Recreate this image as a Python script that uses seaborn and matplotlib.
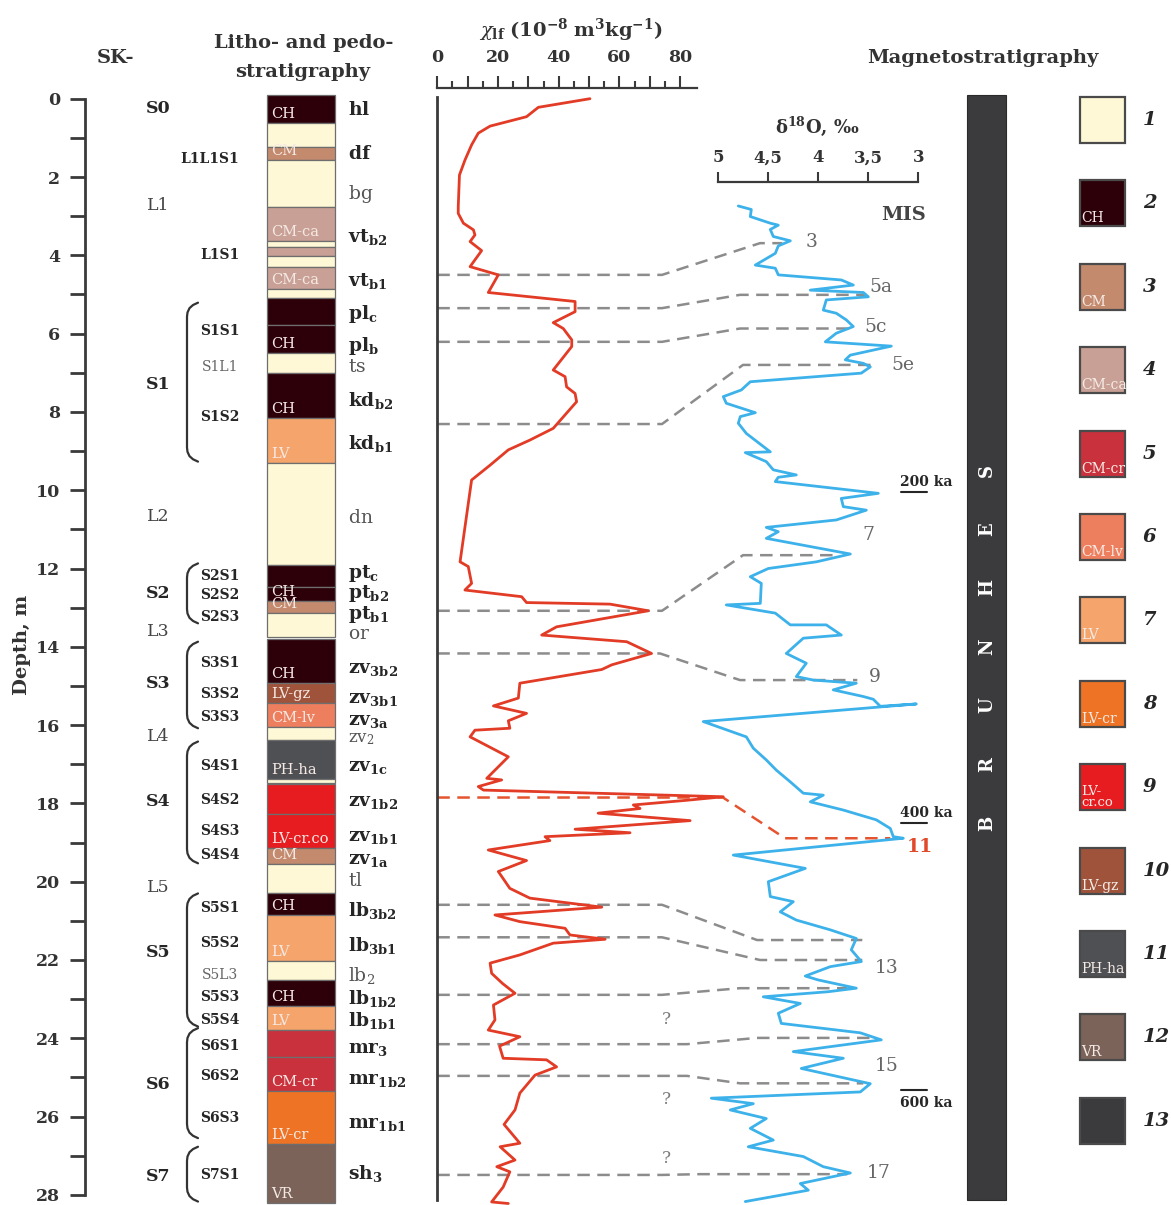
import numpy as np
import matplotlib
matplotlib.use("Agg")
import matplotlib.pyplot as plt
import seaborn as sns
from matplotlib.patches import Rectangle
from matplotlib.ticker import FuncFormatter, FixedLocator

# ---------------- DATA ----------------
depth_ticks = list(range(0, 29, 2))
depth_minor = list(range(1, 28, 2))

# litho / pedo column (depth in m)
unit_top = [-0.10, 0.61, 1.24, 1.57, 2.77, 3.63, 3.80, 4.02, 4.29, 4.87, 5.10, 5.78, 6.49, 7.01,
            8.16, 9.30, 11.91, 12.46, 12.82, 13.13, 13.81, 14.93, 15.43, 16.06, 16.38, 17.38,
            17.50, 18.27, 19.15, 19.55, 20.28, 20.85, 22.02, 22.51, 23.18, 23.79, 24.49, 25.34, 26.70]
unit_base = [0.61, 1.24, 1.57, 2.77, 3.63, 3.80, 4.02, 4.29, 4.87, 5.10, 5.78, 6.49, 7.01, 8.16,
             9.30, 11.91, 12.46, 12.82, 13.13, 13.76, 14.93, 15.43, 16.06, 16.38, 17.38, 17.47,
             18.27, 19.15, 19.55, 20.28, 20.85, 22.02, 22.51, 23.18, 23.79, 24.49, 25.34, 26.70, 28.20]
unit_type = [2, 1, 3, 1, 4, 1, 4, 1, 4, 1, 2, 2, 1, 2,
             7, 1, 2, 2, 3, 1, 2, 10, 6, 1, 11, 1,
             9, 9, 3, 1, 2, 7, 1, 2, 7, 5, 5, 8, 12]
unit_code = ['CH', '', 'CM', '', 'CM-ca', '', '', '', 'CM-ca', '', '', 'CH', '', 'CH',
             'LV', '', '', 'CH', 'CM', '', 'CH', 'LV-gz', 'CM-lv', '', 'PH-ha', '',
             '', 'LV-cr.co', 'CM', '', 'CH', 'LV', '', 'CH', 'LV', '', 'CM-cr', 'LV-cr', 'VR']

type_colors = {1: '#fef8d6', 2: '#2d0009', 3: '#c48a6e', 4: '#c9a096', 5: '#c9313d',
               6: '#ee7f5e', 7: '#f5a56c', 8: '#ef7324', 9: '#e71c20', 10: '#a0533b',
               11: '#4f5054', 12: '#7b635a', 13: '#3b3b3d'}
legend_codes = ['', 'CH', 'CM', 'CM-ca', 'CM-cr', 'CM-lv', 'LV', 'LV-cr', 'LV-\ncr.co',
                'LV-gz', 'PH-ha', 'VR', '']
legend_numbers = [str(i) for i in range(1, 14)]

# SK- stratigraphic units
sk_labels = ['S0', 'L1', 'S1', 'L2', 'S2', 'L3', 'S3', 'L4', 'S4', 'L5', 'S5', 'S6', 'S7']
sk_depth = [0.24, 2.72, 7.31, 10.68, 12.63, 13.62, 14.93, 16.30, 17.96, 20.14, 21.82, 25.19, 27.52]

sub_labels = ['L1L1S1', 'L1S1', 'S1S1', 'S1L1', 'S1S2', 'S2S1', 'S2S2', 'S2S3', 'S3S1', 'S3S2',
              'S3S3', 'S4S1', 'S4S2', 'S4S3', 'S4S4', 'S5S1', 'S5S2', 'S5L3', 'S5S3', 'S5S4',
              'S6S1', 'S6S2', 'S6S3', 'S7S1']
sub_depth = [1.54, 3.99, 5.93, 6.85, 8.13, 12.19, 12.68, 13.24, 14.41, 15.21,
             15.79, 17.04, 17.91, 18.70, 19.32, 20.67, 21.56, 22.38, 22.94, 23.53,
             24.20, 24.96, 26.04, 27.49]

brace_top = [5.21, 11.87, 13.87, 16.42, 20.30, 23.74, 26.77]
brace_base = [9.27, 13.40, 16.08, 19.53, 23.70, 26.55, 28.17]

# pedostratigraphic indices
ped_base = ['hl', 'df', 'bg', 'vt', 'vt', 'pl', 'pl', 'ts', 'kd', 'kd', 'dn', 'pt', 'pt', 'pt',
            'or', 'zv', 'zv', 'zv', 'zv', 'zv', 'zv', 'zv', 'zv', 'tl', 'lb', 'lb', 'lb', 'lb',
            'lb', 'mr', 'mr', 'mr', 'sh']
ped_sub = ['', '', '', 'b2', 'b1', 'c', 'b', '', 'b2', 'b1', '', 'c', 'b2', 'b1',
           '', '3b2', '3b1', '3a', '2', '1c', '1b2', '1b1', '1a', '', '3b2', '3b1', '2', '1b2',
           '1b1', '3', '1b2', '1b1', '3']
ped_bold = [1, 1, 0, 1, 1, 1, 1, 0, 1, 1, 0, 1, 1, 1,
            0, 1, 1, 1, 0, 1, 1, 1, 1, 0, 1, 1, 0, 1,
            1, 1, 1, 1, 1]
ped_depth = [0.26, 1.39, 2.41, 3.51, 4.63, 5.47, 6.29, 6.83, 7.70, 8.80, 10.69, 12.09, 12.60, 13.14,
             13.65, 14.52, 15.28, 15.86, 16.30, 17.02, 17.91, 18.81, 19.40, 19.96, 20.72, 21.62, 22.38, 22.97,
             23.53, 24.22, 25.01, 26.14, 27.44]

# magnetic susceptibility chi_lf
chi_depth = [0.00, 0.22, 0.46, 0.70, 0.88, 1.18, 1.57, 1.95, 2.76, 2.93, 3.18, 3.35, 3.48, 3.65,
             3.88, 4.29, 4.50, 4.95, 5.18, 5.44, 5.72, 5.87, 6.16, 6.33, 6.93, 7.10, 7.36, 7.53,
             7.74, 8.42, 8.72, 8.97, 9.36, 9.74, 11.83, 11.95, 12.38, 12.55, 12.72, 12.87, 12.91,
             13.08, 13.49, 13.70, 13.87, 14.17, 14.46, 14.58, 14.93, 15.31, 15.51, 15.70, 15.89,
             16.08, 16.13, 16.30, 16.81, 17.36, 17.40, 17.57, 17.66, 17.83, 17.92, 18.04, 18.13,
             18.25, 18.44, 18.66, 18.75, 18.85, 18.95, 19.19, 19.46, 19.74, 20.17, 20.42, 20.65,
             20.85, 21.02, 21.19, 21.36, 21.47, 21.57, 21.87, 22.08, 22.34, 22.60, 22.85, 23.15,
             23.53, 23.79, 23.96, 24.20, 24.51, 24.55, 24.73, 24.94, 25.40, 25.83, 26.20, 26.68,
             26.77, 27.11, 27.28, 27.41, 27.80, 28.18, 28.22]
chi_value = [50.3, 33.3, 29.4, 17.4, 13.5, 11.3, 9.1, 7.3, 6.9, 6.9, 8.6, 11.9, 12.4, 10.8,
             14.6, 10.8, 20.1, 16.8, 45.4, 45.4, 38.2, 41.5, 44.3, 44.3, 38.2, 42.1, 42.6, 45.4,
             45.9, 38.2, 30.5, 23.4, 17.4, 11.3, 7.5, 10.2, 11.3, 9.1, 27.8, 29.4, 56.9,
             69.5, 39.3, 34.4, 62.4, 70.6, 57.5, 54.2, 27.2, 26.7, 18.5, 29.4, 23.4,
             23.9, 12.4, 10.8, 23.4, 16.3, 21.2, 13.5, 15.2, 94.2, 82.2, 64.6, 66.8,
             53.0, 83.3, 45.4, 63.5, 35.5, 37.1, 16.8, 29.4, 20.1, 23.9, 30.5, 54.2,
             19.0, 27.2, 42.1, 43.7, 55.3, 38.2, 27.2, 17.4, 17.9, 21.5, 25.6, 18.5,
             19.0, 16.8, 27.2, 20.5, 21.7, 36.0, 39.3, 32.2, 27.2, 25.6, 22.0, 27.2,
             20.7, 25.6, 19.6, 23.9, 21.7, 17.9, 23.4]

# oxygen isotope record
o18_depth = [2.74, 2.83, 3.01, 3.18, 3.23, 3.34, 3.52, 3.63, 3.76, 3.95, 4.25, 4.33, 4.50, 4.63,
             4.76, 4.89, 4.95, 5.06, 5.14, 5.40, 5.48, 5.65, 5.82, 5.99, 6.21, 6.32, 6.55, 6.67,
             6.76, 6.85, 7.01, 7.23, 7.44, 7.61, 7.78, 8.02, 8.12, 8.29, 8.55, 9.02, 9.04, 9.27,
             9.48, 9.61, 9.67, 9.78, 10.08, 10.21, 10.42, 10.51, 10.76, 10.95, 11.06, 11.23, 11.63,
             11.83, 12.00, 12.21, 12.38, 12.89, 12.93, 13.14, 13.44, 13.44, 13.70, 13.78, 14.17,
             14.42, 14.76, 14.85, 14.93, 15.10, 15.27, 15.34, 15.52, 15.46, 15.91, 16.30, 16.59,
             16.89, 17.15, 17.45, 17.74, 17.79, 17.96, 18.17, 18.42, 18.64, 18.85, 18.89, 19.32,
             19.66, 20.00, 20.38, 20.51, 20.77, 20.98, 21.23, 21.45, 21.74, 22.04, 22.17, 22.41,
             22.51, 22.72, 22.81, 22.94, 23.11, 23.36, 23.62, 23.86, 24.04, 24.34, 24.51, 24.77,
             25.16, 25.37, 25.53, 25.67, 25.83, 26.05, 26.30, 26.60, 26.77, 27.02, 27.28, 27.44,
             27.71, 27.88, 28.17]
o18_value = [4.80, 4.67, 4.68, 4.48, 4.40, 4.48, 4.45, 4.28, 4.40, 4.43, 4.63, 4.43, 4.40, 3.77,
             3.65, 4.08, 3.55, 3.50, 3.92, 3.95, 3.82, 3.72, 3.65, 3.82, 3.93, 3.27, 3.68, 3.73,
             3.55, 3.48, 3.57, 4.68, 4.77, 4.95, 4.92, 4.63, 4.78, 4.80, 4.72, 4.48, 4.73, 4.52,
             4.45, 4.22, 4.40, 4.43, 3.40, 3.77, 3.75, 3.52, 3.82, 4.52, 4.40, 4.52, 3.68,
             4.02, 4.50, 4.68, 4.57, 4.58, 4.92, 4.43, 4.28, 3.92, 3.77, 4.15, 4.32,
             4.12, 4.22, 4.05, 3.62, 3.85, 3.55, 3.45, 3.38, 3.02, 5.15, 4.72, 4.65,
             4.52, 4.42, 4.28, 4.15, 3.95, 4.08, 3.75, 3.42, 3.28, 3.25, 3.15, 4.85,
             4.13, 4.50, 4.48, 4.25, 4.38, 4.22, 3.88, 3.62, 3.67, 3.57, 3.88, 4.13,
             4.00, 3.62, 3.90, 4.55, 4.18, 4.40, 4.37, 3.58, 3.37, 4.25, 3.75, 4.17,
             3.48, 3.58, 5.07, 4.65, 4.88, 4.52, 4.68, 4.45, 4.70, 4.15, 3.95, 3.68,
             4.18, 4.10, 4.73]

# correlation lines: depth on chi side, depth on d18O side, d18O value at end
corr_chi_depth = [4.50, 5.35, 6.21, 8.31, 13.08, 14.17, 17.85, 20.59, 21.42, 22.89, 24.15, 24.96, 27.49]
corr_o18_depth = [3.69, 5.01, 5.87, 6.80, 11.66, 14.85, 18.89, 21.49, 22.00, 22.72, 23.99, 25.15, 27.47]
corr_o18_end = [4.36, 3.53, 3.65, 3.47, 3.81, 3.61, 3.28, 3.56, 3.56, 3.71, 3.45, 3.55, 3.71]

mis_labels = ['3', '5a', '5c', '5e', '7', '9', '11', '13', '15', '17']
mis_o18 = [4.07, 3.37, 3.43, 3.15, 3.50, 3.43, 2.98, 3.32, 3.32, 3.40]
mis_depth = [3.65, 4.82, 5.82, 6.80, 11.14, 14.76, 19.11, 22.21, 24.71, 27.45]

age_labels = ['200', '400', '600']
age_depth = [9.78, 18.25, 25.66]
question_depth = [23.53, 25.56, 27.07]

brunhes_top, brunhes_base = -0.10, 28.13
brunhes_letters = list('BRUNHES')

# ---------------- LAYOUT ----------------
sns.set_theme(style="white")
plt.rcParams["font.family"] = ["DejaVu Serif"]
plt.rcParams["mathtext.fontset"] = "dejavuserif"

W, H = 1171, 1205
Y0, PXM = 98.7, 39.15


def dep(ypx):
    return (ypx - Y0) / PXM


YLIM = (dep(H), dep(0))
CHI_X0, CHI_PX = 437.3, 3.035
O18_X5, O18_PX = 718.3, 100.0


def o18_px(v):
    return O18_X5 + (5 - v) * O18_PX


DARK = '#262626'
AXC = '#3a3a3a'
RED = '#e23b26'
BLUE = '#3db2ea'
DASH = '#8c8c8c'

corr_bend_left = [662, 662, 662, 662, 662, 660, 723, 662, 662, 662, 687, 687, 662]
corr_bend_right = [760, 740, 740, 743, 743, 740, 785, 757, 760, 740, 757, 740, 700]
corr_colors = [DASH] * 6 + ['#e5532f'] + [DASH] * 6

fig = plt.figure(figsize=(W / 100, H / 100), dpi=100)
fig.patch.set_facecolor('white')

# base axes: x in pixels, y in depth
ax = fig.add_axes([0, 0, 1, 1])
ax.set_xlim(0, W)
ax.set_ylim(*YLIM)
ax.patch.set_visible(False)
ax.grid(False)
for s in ('top', 'right', 'bottom'):
    ax.spines[s].set_visible(False)
ax.spines['left'].set_position(('data', 85))
ax.spines['left'].set_bounds(0, 28)
ax.spines['left'].set_linewidth(2)
ax.spines['left'].set_color(AXC)
ax.set_xticks([])
ax.set_yticks(depth_ticks)
ax.yaxis.set_minor_locator(FixedLocator(depth_minor))
ax.tick_params(axis='y', which='both', left=True, direction='out', length=11, width=2, color=AXC)
ax.tick_params(axis='y', which='major', labelsize=12.5, pad=7, labelcolor='#333333')
for t in ax.get_yticklabels():
    t.set_fontweight('bold')

ax.text(22, dep(645), 'Depth, m', rotation=90, ha='center', va='center', fontsize=14,
        fontweight='bold', color='#333333')

# headers
ax.text(115, dep(58), 'SK-', ha='center', va='center', fontsize=14, fontweight='bold', color='#333333')
ax.text(304, dep(43), 'Litho- and pedo-', ha='center', va='center', fontsize=14, fontweight='bold', color='#333333')
ax.text(303, dep(72), 'stratigraphy', ha='center', va='center', fontsize=14, fontweight='bold', color='#333333')
ax.text(983, dep(58), 'Magnetostratigraphy', ha='center', va='center', fontsize=14, fontweight='bold', color='#333333')
ax.text(571, dep(30), r'$\chi_{\mathbf{lf}}$ $\mathbf{(10^{-8}\ m^{3}kg^{-1})}$', ha='center', va='center',
        fontsize=14, color='#333333')
ax.text(817, dep(126), r'$\mathbf{\delta^{18}O}$, ‰', ha='center', va='center', fontsize=13,
        fontweight='bold', color='#333333')
ax.text(903, dep(215), 'MIS', ha='center', va='center', fontsize=14, fontweight='bold', color='#444444')

# litho column
tops = np.array(unit_top)
bases = np.array(unit_base)
ax.bar(x=[301] * len(tops), height=bases - tops, bottom=tops, width=68,
       color=[type_colors[t] for t in unit_type], edgecolor='#6e6e6e', linewidth=0.9, zorder=2)
for base, code in zip(unit_base, unit_code):
    if code:
        ax.text(271, base - 0.05, code, color='#f5e9e4', fontsize=10.5, ha='left', va='bottom', zorder=3)

# SK labels
for lab, d in zip(sk_labels, sk_depth):
    bold = lab.startswith('S')
    ax.text(158, d, lab, ha='center', va='center', fontsize=12.5,
            fontweight='bold' if bold else 'normal', color=DARK if bold else '#444444')
for lab, d in zip(sub_labels, sub_depth):
    normal = 'L' in lab[2:] and not lab.startswith('L')
    xx = 210 if lab == 'L1L1S1' else 220
    ax.text(xx, d, lab, ha='center', va='center', fontsize=10,
            fontweight='normal' if normal else 'bold', color='#666666' if normal else DARK)

# braces
for t, b in zip(brace_top, brace_base):
    bx = [198, 193, 189.5, 187.5, 187, 187, 187.5, 189.5, 193, 198]
    by = [t, t + 0.06, t + 0.14, t + 0.25, t + 0.36, b - 0.36, b - 0.25, b - 0.14, b - 0.06, b]
    ax.plot(bx, by, color='#333333', lw=1.6, solid_capstyle='round')

# pedostratigraphic indices
for base, sub, bold, d in zip(ped_base, ped_sub, ped_bold, ped_depth):
    if bold:
        s = r'$\mathbf{%s}$' % base if not sub else r'$\mathbf{%s}_{\mathbf{%s}}$' % (base, sub)
        col = DARK
    else:
        s = r'$\mathrm{%s}$' % base if not sub else r'$\mathrm{%s}_{\mathrm{%s}}$' % (base, sub)
        col = '#555555'
    fs = 12 if (base == 'zv' and sub == '2') else 13.5
    ax.text(348, d + 0.15, s, ha='left', va='baseline', fontsize=fs, color=col)

# correlation lines
for d1, d2, de, bl, br, col in zip(corr_chi_depth, corr_o18_depth, corr_o18_end,
                                   corr_bend_left, corr_bend_right, corr_colors):
    ax.plot([CHI_X0, bl, br, o18_px(de)], [d1, d1, d2, d2], ls=(0, (5, 3)), color=col, lw=1.8, zorder=1)
for d in question_depth:
    ax.text(666, d, '?', ha='center', va='center', fontsize=12, color='#7a7a7a')

# age markers
for lab, d, side in zip(age_labels, age_depth, ['under', 'under', 'over']):
    ax.text(900, d, f'{lab} ka', ha='left', va='center', fontsize=10, fontweight='bold', color=DARK)
    yy = d + 0.26 if side == 'under' else d - 0.34
    ax.plot([901, 927], [yy, yy], color=DARK, lw=1.5)

# Brunhes bar
ax.bar(x=[986.5], height=[brunhes_base - brunhes_top], bottom=[brunhes_top], width=39,
       color=type_colors[13], edgecolor='#2a2a2a', linewidth=0.8, zorder=2)
for i, ch in enumerate(brunhes_letters):
    ax.text(987, dep(823 - i * 58.8), ch, rotation=90, ha='center', va='center', fontsize=13,
            fontweight='bold', color='white', zorder=3)

# legend
for i in range(13):
    cy = 120 + i * 83.4
    rect = Rectangle((1080, dep(cy - 23)), 45, 46 / PXM, facecolor=type_colors[i + 1],
                     edgecolor='#4a4a4a', lw=1.6, zorder=3)
    ax.add_patch(rect)
    code = legend_codes[i]
    if code:
        t = ax.text(1081, dep(cy + 22), code, color='#f5ebe6', fontsize=10 if '\n' not in code else 9.5,
                    ha='left', va='bottom', linespacing=0.85, zorder=4)
        t.set_clip_path(rect)
    ax.text(1143, dep(cy), legend_numbers[i], fontsize=14, fontweight='bold', style='italic',
            color=DARK, ha='left', va='center')

# chi_lf axes
axc = fig.add_axes([CHI_X0 / W, 0, 100 * CHI_PX / W, 1])
sns.lineplot(x=chi_value, y=chi_depth, ax=axc, sort=False, estimator=None, color=RED, linewidth=2.0)
axc.set_xlim(0, 100)
axc.set_ylim(*YLIM)
axc.set_xlabel('')
axc.set_ylabel('')
axc.patch.set_visible(False)
axc.grid(False)
axc.spines['right'].set_visible(False)
axc.spines['bottom'].set_visible(False)
axc.spines['left'].set_bounds(dep(97), dep(1200))
axc.spines['left'].set_linewidth(2)
axc.spines['left'].set_color(AXC)
axc.spines['top'].set_position(('data', dep(88)))
axc.spines['top'].set_bounds(0, 85.5)
axc.spines['top'].set_linewidth(1.6)
axc.spines['top'].set_color(AXC)
axc.xaxis.tick_top()
axc.set_xticks(np.arange(0, 81, 10))
axc.xaxis.set_minor_locator(FixedLocator(np.arange(5, 81, 10)))
axc.xaxis.set_major_formatter(FuncFormatter(lambda v, p: f'{int(round(v))}' if int(round(v)) % 20 == 0 else ''))
axc.tick_params(axis='x', which='major', top=True, bottom=False, labeltop=True, labelbottom=False,
                direction='out', length=9, width=1.5, color=AXC, labelsize=12.5, pad=7, labelcolor='#333333')
axc.tick_params(axis='x', which='minor', top=True, bottom=False, direction='out', length=5, width=1.5, color=AXC)
axc.set_yticks([])
for t in axc.get_xticklabels():
    t.set_fontweight('bold')

# d18O axes
axo = fig.add_axes([(O18_X5 - 0.3 * O18_PX) / W, 0, 2.35 * O18_PX / W, 1])
sns.lineplot(x=o18_value, y=o18_depth, ax=axo, sort=False, estimator=None, color=BLUE, linewidth=2.0)
axo.set_xlim(5.3, 2.95)
axo.set_ylim(*YLIM)
axo.set_xlabel('')
axo.set_ylabel('')
axo.patch.set_visible(False)
axo.grid(False)
for s in ('left', 'right', 'bottom'):
    axo.spines[s].set_visible(False)
axo.spines['top'].set_position(('data', dep(181.7)))
axo.spines['top'].set_bounds(3, 5)
axo.spines['top'].set_linewidth(1.6)
axo.spines['top'].set_color(AXC)
axo.xaxis.tick_top()
axo.set_xticks([5, 4.5, 4, 3.5, 3])
axo.xaxis.set_major_formatter(FuncFormatter(lambda v, p: (f'{v:g}').replace('.', ',')))
axo.tick_params(axis='x', which='major', top=True, bottom=False, labeltop=True, labelbottom=False,
                direction='out', length=7, width=1.5, color=AXC, labelsize=12, pad=4, labelcolor='#333333')
axo.set_yticks([])
for t in axo.get_xticklabels():
    t.set_fontweight('bold')

for lab, x, d in zip(mis_labels, mis_o18, mis_depth):
    axo.text(x, d, lab, ha='center', va='center', fontsize=13.5,
             color='#e04a2a' if lab == '11' else '#666666', fontweight='bold' if lab == '11' else 'normal')

fig.savefig('out.png', dpi=100, facecolor='white')
